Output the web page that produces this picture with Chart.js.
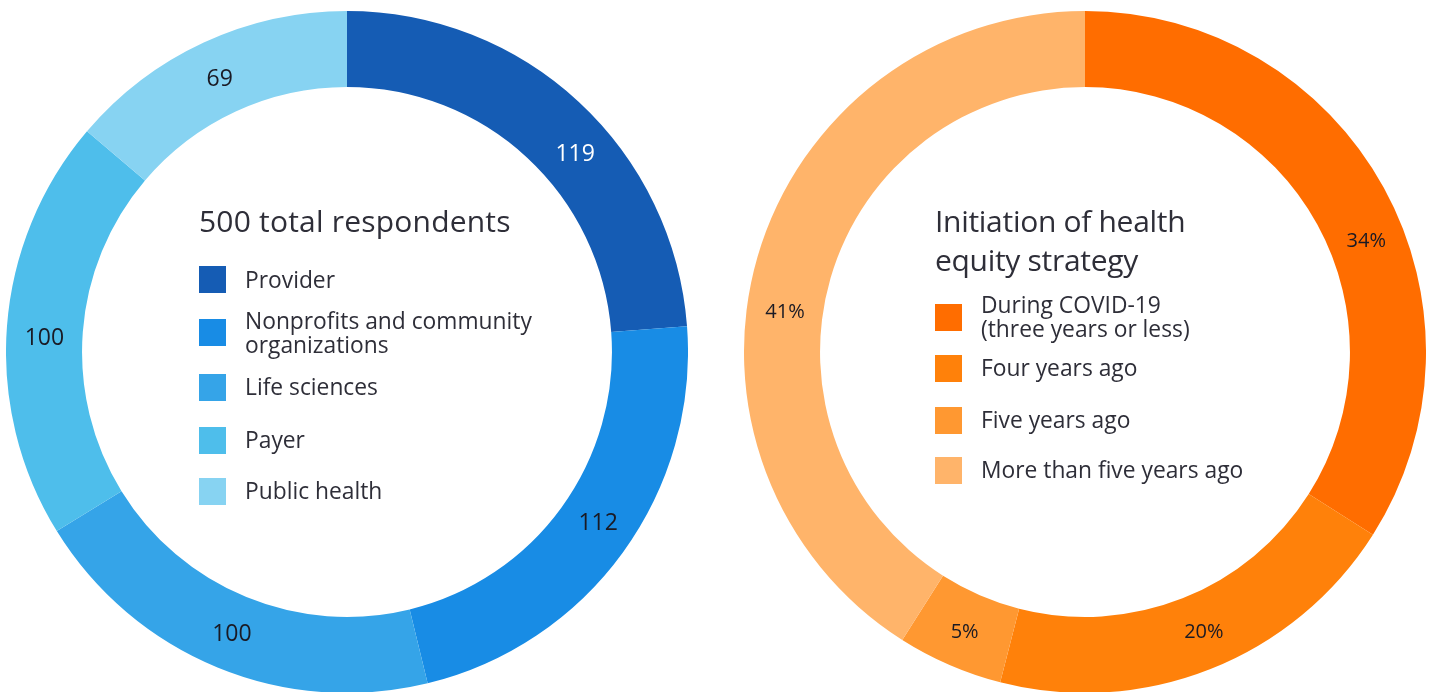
<!DOCTYPE html>
<html>
<head>
<meta charset="utf-8">
<script src="https://cdn.jsdelivr.net/npm/chart.js@4.4.1/dist/chart.umd.min.js"></script>
<style>
  body { margin: 0; width: 1434px; height: 692px; overflow: hidden; position: relative; background: #fff;
         font-family: "Open Sans", sans-serif; color: #2e2e38; }
  canvas { position: absolute; top: 11px; }
  #leftChart { left: 6px; }
  #rightChart { left: 744px; }
  .center { position: absolute; }
  .center h2 { margin: 0; font-weight: 400; font-size: 30px; line-height: 39px; letter-spacing: -0.3px; }
  #leftCenter h2 { letter-spacing: 0.2px; }
  .center ul { list-style: none; margin: 0; padding: 0; }
  .center li { position: relative; padding-left: 46px; font-size: 22.8px; line-height: 24px; }
  .center li span { position: absolute; left: 0; width: 27px; height: 27px; }
  #leftCenter { left: 199px; top: 201px; }
  #leftLegend { margin-top: 28px; }
  #rightCenter { left: 935px; top: 201px; }
  #rightLegend { margin-top: 14px; }
</style>
</head>
<body>
<canvas id="leftChart" width="682" height="682"></canvas>
<canvas id="rightChart" width="682" height="682"></canvas>
<div class="center" id="leftCenter"><h2>500 total respondents</h2><ul id="leftLegend"></ul></div>
<div class="center" id="rightCenter"><h2>Initiation of health<br>equity strategy</h2><ul id="rightLegend"></ul></div>
<script>
const sectors = ['Provider', 'Nonprofits and community organizations', 'Life sciences', 'Payer', 'Public health'];
const respondents = [119, 112, 100, 100, 69];
const sectorColors = ['#155cb4', '#188ce5', '#35a4e8', '#4ebeeb', '#87d3f2'];

const timing = ['During COVID-19 (three years or less)', 'Four years ago', 'Five years ago', 'More than five years ago'];
const timingShare = [34, 20, 5, 41];
const timingColors = ['#ff6d00', '#ff810a', '#ff9831', '#ffb46a'];

// text labels sit in the middle of each ring slice, a few are nudged along the arc
const sliceLabels = {
  id: 'sliceLabels',
  afterDatasetsDraw(chart, args, opts) {
    const ctx = chart.ctx;
    const meta = chart.getDatasetMeta(0);
    const values = chart.data.datasets[0].data;
    ctx.save();
    ctx.font = opts.font;
    ctx.textAlign = 'center';
    ctx.textBaseline = 'middle';
    meta.data.forEach((arc, i) => {
      const p = arc.getProps(['x', 'y', 'startAngle', 'endAngle', 'innerRadius', 'outerRadius'], true);
      const a = (p.startAngle + p.endAngle) / 2 + (opts.nudge[i] || 0) * Math.PI / 180;
      const r = (p.innerRadius + p.outerRadius) / 2;
      ctx.fillStyle = opts.colors[i] || '#1a1a24';
      ctx.fillText(opts.format(values[i]), p.x + Math.cos(a) * r, p.y + Math.sin(a) * r + 2);
    });
    ctx.restore();
  }
};

const htmlLegend = {
  id: 'htmlLegend',
  afterUpdate(chart, args, opts) {
    const ul = document.getElementById(opts.containerID);
    ul.innerHTML = '';
    const items = chart.options.plugins.legend.labels.generateLabels(chart);
    items.forEach((item, i) => {
      const li = document.createElement('li');
      li.style.marginBottom = opts.gaps[i] + 'px';
      const box = document.createElement('span');
      box.style.background = item.fillStyle;
      box.style.top = opts.boxTop[i] + 'px';
      li.appendChild(box);
      li.innerHTML += (opts.breaks[i] || item.text);
      ul.appendChild(li);
    });
  }
};

function ring(id, labels, values, colors, extra) {
  return new Chart(document.getElementById(id), {
    type: 'doughnut',
    data: {
      labels: labels,
      datasets: [{ data: values, backgroundColor: colors, borderWidth: 0 }]
    },
    plugins: [sliceLabels, htmlLegend],
    options: {
      responsive: false,
      animation: false,
      cutout: '77.7%',
      layout: { padding: 0 },
      plugins: {
        legend: { display: false },
        tooltip: { enabled: false },
        sliceLabels: extra.labels,
        htmlLegend: extra.legend
      }
    }
  });
}

ring('leftChart', sectors, respondents, sectorColors, {
  labels: {
    font: '23px "Open Sans"',
    colors: ['#ffffff', '#1a1a24', '#1a1a24', '#1a1a24', '#1a1a24'],
    nudge: [6, -2, 0, -1.3, 0],
    format: v => String(v)
  },
  legend: {
    containerID: 'leftLegend',
    gaps: [17, 18, 29, 27, 0],
    boxTop: [-2, 10, -1, -1, -1],
    breaks: ['Provider', 'Nonprofits and community<br>organizations']
  }
});

ring('rightChart', timing, timingShare, timingColors, {
  labels: {
    font: '20px "Open Sans"',
    colors: [],
    nudge: [7, -1.5, 0, -8.2],
    format: v => v + '%'
  },
  legend: {
    containerID: 'rightLegend',
    gaps: [15, 28, 26, 0],
    boxTop: [11, -1, -1, -1],
    breaks: ['During COVID-19<br>(three years or less)']
  }
});
</script>
</body>
</html>
